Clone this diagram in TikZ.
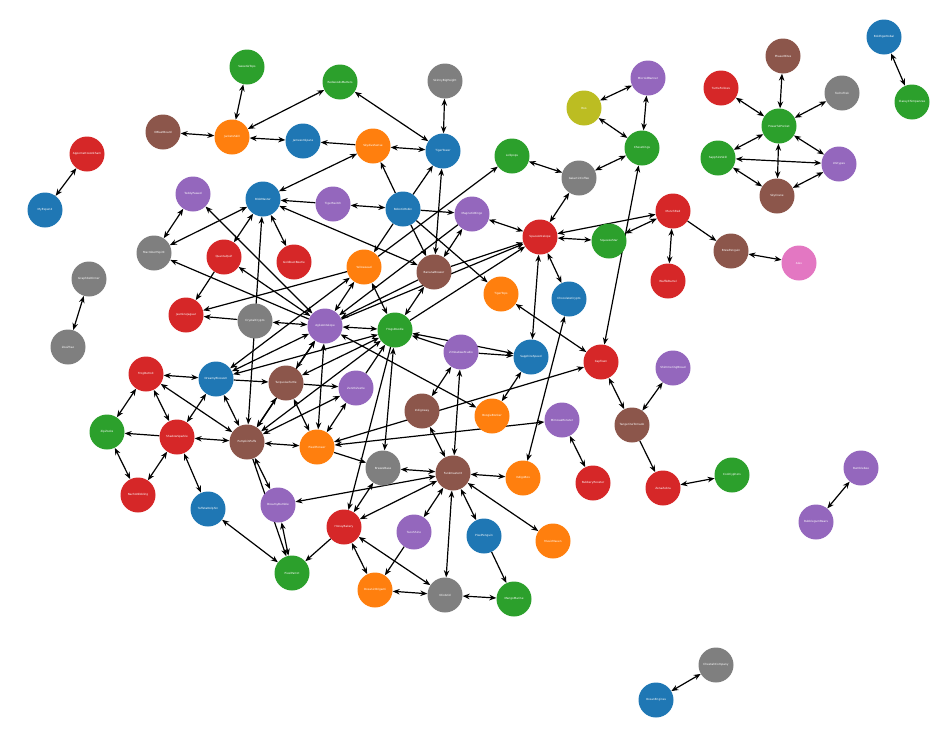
\documentclass[tikz,border=0pt]{standalone}
\usepackage{fontspec}
\setmainfont{DejaVu Sans}
\usetikzlibrary{arrows.meta,backgrounds}
\definecolor{tblue}{HTML}{1F77B4}
\definecolor{torange}{HTML}{FF7F0E}
\definecolor{tgreen}{HTML}{2CA02C}
\definecolor{tred}{HTML}{D62728}
\definecolor{tpurple}{HTML}{9467BD}
\definecolor{tbrown}{HTML}{8C564B}
\definecolor{tpink}{HTML}{E377C2}
\definecolor{tgray}{HTML}{7F7F7F}
\definecolor{tolive}{HTML}{BCBD22}
\begin{document}
\begin{tikzpicture}[x=1pt,y=-1pt,
  nd/.style={circle,minimum size=35pt,inner sep=0pt,text=white,font=\fontsize{2.8}{3}\selectfont},
  ed/.style={line width=1.2pt,-{Stealth[length=7pt,width=5.5pt]}},
  dd/.style={line width=1.2pt,{Stealth[length=7pt,width=5.5pt]}-{Stealth[length=7pt,width=5.5pt]}}]
\useasboundingbox (0,0) rectangle (942,739);
% nodes
\node[nd,fill=tgreen]  (st) at (247,67)  {SweetieTops};
\node[nd,fill=tgreen]  (rm) at (340,82)  {RedwoodsMatters};
\node[nd,fill=tgray]   (sb) at (445,81)  {SkinnyBigHeight};
\node[nd,fill=tbrown]  (ob) at (163,132) {OBlastBoard};
\node[nd,fill=torange] (js) at (232,137) {JacketsSkill};
\node[nd,fill=tblue]   (jm) at (303,141) {JamesonSpans};
\node[nd,fill=torange] (sk) at (373,146) {SkydiveSense};
\node[nd,fill=tblue]   (tt) at (443,151) {TigerTower};
\node[nd,fill=tred]    (ha) at (87,154)  {AppomattoxArkham};
\node[nd,fill=tblue]   (me) at (45,210)  {MyExpend};
\node[nd,fill=tpurple] (tp) at (193,194) {TeddyPawed};
\node[nd,fill=tblue]   (bm) at (263,199) {BlobMaster};
\node[nd,fill=tpurple] (ts) at (333,204) {TigerSwitch};
\node[nd,fill=tblue]   (rr) at (403,209) {RoboticRobin};
\node[nd,fill=tpurple] (mb) at (472,214) {MagneticBingo};
\node[nd,fill=tgreen]  (lo) at (512,156) {Lollipops};
\node[nd,fill=tgray]   (ga) at (579,178) {GalacticCoffee};
\node[nd,fill=tolive]  (ro) at (584,108) {Roo};
\node[nd,fill=tpurple] (mi) at (648,78)  {MicroidBanner};
\node[nd,fill=tgreen]  (ck) at (642,148) {ChessKings};
\node[nd,fill=tred]    (sa) at (540,237) {SpaceAntelope};
\node[nd,fill=tgreen]  (sq) at (609,241) {SqueezeStar};
\node[nd,fill=tred]    (mr) at (673,211) {MunchRed};
\node[nd,fill=tred]    (wb) at (668,281) {WaffleBarrel};
\node[nd,fill=tbrown]  (bp) at (731,251) {BrewPenguin};
\node[nd,fill=tpink]   (al) at (799,263) {Alex};
\node[nd,fill=tred]    (tf) at (721,88)  {TurtleFollows};
\node[nd,fill=tbrown]  (pb) at (783,56)  {PhaserBites};
\node[nd,fill=tgray]   (te) at (842,93)  {TechoTrek};
\node[nd,fill=tgreen]  (pp) at (779,126) {PowerfulPocket};
\node[nd,fill=tgreen]  (ss) at (718,158) {SapphireSkill};
\node[nd,fill=tpurple] (un) at (839,164) {Unitypes};
\node[nd,fill=tbrown]  (sc) at (777,196) {SkyCrane};
\node[nd,fill=tblue]   (bk) at (884,37)  {BoldhgerKobal};
\node[nd,fill=tgreen]  (cc) at (912,102) {ClassyChimpanzee};
\node[nd,fill=tgray]   (ms) at (154,253) {MacrobertSpirit};
\node[nd,fill=tred]    (qq) at (224,257) {QuantaQuirl};
\node[nd,fill=tred]    (gb) at (294,262) {GoldbustBeetle};
\node[nd,fill=torange] (yl) at (364,267) {YellowLead};
\node[nd,fill=tbrown]  (bb) at (434,272) {BananaBrewer};
\node[nd,fill=torange] (tg) at (501,294) {TigerTops};
\node[nd,fill=tblue]   (cy) at (569,299) {ChocolateCrypto};
\node[nd,fill=tgray]   (gd) at (89,279)  {GraphiteDinner};
\node[nd,fill=tgray]   (zz) at (68,347)  {ZoeZhao};
\node[nd,fill=tred]    (jj) at (186,315) {JasmineJaguar};
\node[nd,fill=tgray]   (cr) at (255,321) {CrystalCrypto};
\node[nd,fill=tpurple] (aa) at (325,326) {AgileAntelope};
\node[nd,fill=tgreen]  (fd) at (395,330) {FrogsDoodle};
\node[nd,fill=tpurple] (zs) at (461,352) {ZimbabweStudio};
\node[nd,fill=tblue]   (sp) at (531,357) {SapphireSpeed};
\node[nd,fill=tred]    (ct) at (601,362) {CapTown};
\node[nd,fill=tpurple] (sh) at (673,368) {ShimmeringBread};
\node[nd,fill=tred]    (fr) at (146,374) {FrogDetroit};
\node[nd,fill=tblue]   (db) at (216,379) {DreamyBlossom};
\node[nd,fill=tbrown]  (tu) at (286,383) {TurquoiseTurtle};
\node[nd,fill=tpurple] (ze) at (356,388) {ZenithZestle};
\node[nd,fill=tbrown]  (iw) at (422,411) {Indigoway};
\node[nd,fill=torange] (bo) at (492,416) {BoogieBonker};
\node[nd,fill=tpurple] (mm) at (562,420) {MimosaMonster};
\node[nd,fill=tbrown]  (to) at (632,425) {TangerineTornado};
\node[nd,fill=tgreen]  (zi) at (107,432) {ZipZooks};
\node[nd,fill=tred]    (sd) at (177,437) {ShadowSparkle};
\node[nd,fill=tbrown]  (pu) at (247,442) {PumpkinPuffs};
\node[nd,fill=torange] (pi) at (317,447) {PixelPioneer};
\node[nd,fill=tgray]   (br) at (383,468) {BreezeBase};
\node[nd,fill=tbrown]  (fx) at (453,473) {FunkmasterX};
\node[nd,fill=torange] (ib) at (523,478) {IndigoBox};
\node[nd,fill=tred]    (ry) at (593,483) {RubberyRooster};
\node[nd,fill=tred]    (zb) at (663,488) {ZenaZebra};
\node[nd,fill=tgreen]  (cf) at (732,475) {CoolCyphers};
\node[nd,fill=tred]    (nn) at (138,495) {NachoNibbling};
\node[nd,fill=tblue]   (td) at (208,509) {TaffetaDolphin};
\node[nd,fill=tpurple] (dm) at (278,505) {DreamyBumble};
\node[nd,fill=tred]    (hb) at (344,527) {HoneyBakery};
\node[nd,fill=tpurple] (tc) at (414,532) {TacoShine};
\node[nd,fill=tblue]   (pg) at (484,536) {PixelPenguin};
\node[nd,fill=torange] (mv) at (553,541) {MusicMaven};
\node[nd,fill=tgreen]  (px) at (292,573) {PixelParrot};
\node[nd,fill=torange] (oo) at (375,590) {OceanicOrigami};
\node[nd,fill=tgray]   (og) at (445,595) {OlioGrid};
\node[nd,fill=tgreen]  (mg) at (514,599) {MangoMarine};
\node[nd,fill=tpurple] (bu) at (861,468) {Bumblebee};
\node[nd,fill=tpurple] (bg) at (816,522) {BubblegumBears};
\node[nd,fill=tgray]   (ch) at (716,665) {CheetahCompany};
\node[nd,fill=tblue]   (oe) at (656,700) {OceanEngines};
% edges
\begin{pgfonlayer}{background}
\foreach \a/\b in {st/js,ob/js,js/rm,js/jm,sk/tt,rm/tt,sb/tt,sk/bm,ts/rr,ha/me,gd/zz,
  tp/ms,tp/aa,bm/ms,bm/qq,bm/pu,bm/gb,bm/bb,qq/aa,cr/aa,yl/fd,bb/fd,yl/aa,aa/fd,tt/bb,mb/bb,
  ro/mi,ro/ck,mi/ck,ck/ga,lo/ga,ga/sa,mb/sa,sa/sq,sa/mr,sq/mr,ck/ct,mr/wb,bp/al,
  pp/pb,pp/tf,pp/te,pp/ss,pp/un,pp/sc,ss/un,ss/sc,sc/un,bk/cc,
  tg/ct,sa/sp,sa/cy,cy/ib,fd/sp,sp/bo,aa/bo,pi/ct,pi/mm,mm/ry,ct/to,sh/to,cf/zb,bu/bg,ch/oe,
  br/fx,fx/ib,fx/pg,fx/mv,fx/og,fx/tc,hb/fx,fx/dm,iw/fx,zs/fx,og/mg,og/oo,hb/og,hb/oo,br/hb,fd/br,
  pu/dm,dm/px,td/px,pu/pi,tu/pi,aa/pi,ze/pi,aa/tu,iw/zs,
  fr/db,fr/zi,fr/sd,fr/pu,sd/db,sd/pu,zi/nn,sd/nn,sd/td,db/pu,db/aa,db/fd,db/yl,
  pu/tu,pu/aa,pu/fd,pu/ze,tu/fd}
  \draw[dd] (\a) -- (\b);
\foreach \a/\b in {sk/jm,ts/bm,rr/sk,rr/tt,rr/mb,aa/ms,qq/jj,cr/jj,yl/jj,bb/aa,rr/yl,rr/bb,rr/tg,
  mb/aa,yl/lo,mr/bp,bb/sa,aa/sa,fd/sa,zs/sp,to/zb,pg/mg,tc/oo,hb/px,fd/hb,pu/px,pi/br,tu/ze,
  db/tu,ze/fd,zs/fd,sd/zi}
  \draw[ed] (\a) -- (\b);
\end{pgfonlayer}
\end{tikzpicture}
\end{document}
